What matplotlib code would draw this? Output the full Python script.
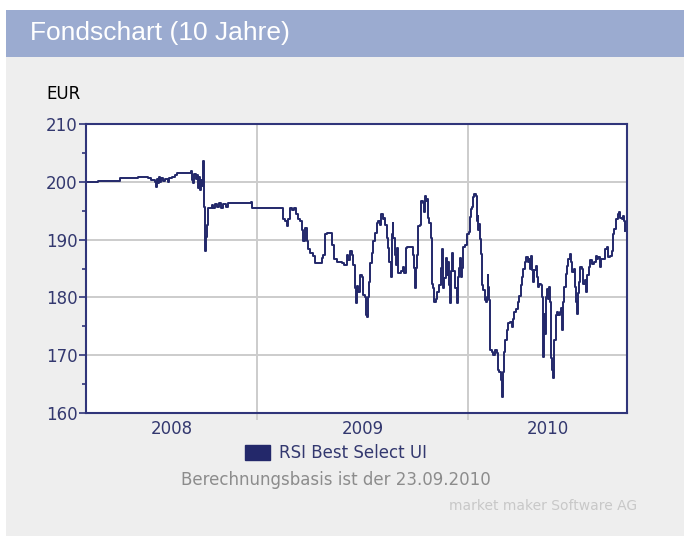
import matplotlib
matplotlib.use("Agg")
import matplotlib.pyplot as plt
import numpy as np
from matplotlib.patches import Rectangle, Patch

# Kursdaten (Zeit als Dezimaljahr, Kurs in EUR)
dates_2008 = [2008.190, 2008.246, 2008.351, 2008.436, 2008.483, 2008.498, 2008.517, 2008.521, 2008.526, 2008.531,
              2008.536, 2008.540, 2008.545, 2008.555, 2008.564, 2008.578, 2008.583, 2008.597, 2008.611, 2008.621,
              2008.682, 2008.687, 2008.692, 2008.697, 2008.701, 2008.711, 2008.716, 2008.720, 2008.725, 2008.730,
              2008.735, 2008.739, 2008.744, 2008.749, 2008.754, 2008.758, 2008.763, 2008.768, 2008.777, 2008.787,
              2008.791, 2008.801, 2008.810, 2008.820, 2008.829, 2008.839, 2008.853, 2008.863, 2008.891, 2008.967,
              2008.972, 2008.976, 2008.995]
eur_2008 = [200.0, 200.2, 200.6, 200.9, 200.6, 200.3, 200.0, 199.1, 200.5, 199.8,
            200.8, 200.0, 200.6, 200.2, 200.4, 200.0, 200.7, 200.9, 201.2, 201.5,
            201.5, 201.8, 200.3, 199.8, 201.4, 200.5, 201.2, 199.0, 200.8, 198.5,
            200.3, 199.2, 203.6, 195.7, 188.1, 190.5, 192.6, 195.5, 195.5, 196.0,
            195.4, 196.2, 195.6, 196.3, 195.5, 196.1, 195.6, 196.3, 196.3, 196.3,
            196.5, 195.5, 195.5]

dates_2009 = [2009.125, 2009.133, 2009.141, 2009.148, 2009.156, 2009.164, 2009.177, 2009.183, 2009.193, 2009.204,
              2009.212, 2009.219, 2009.227, 2009.236, 2009.243, 2009.251, 2009.267, 2009.275, 2009.299, 2009.307,
              2009.314, 2009.322, 2009.330, 2009.351, 2009.357, 2009.365, 2009.378, 2009.401, 2009.414, 2009.425,
              2009.433, 2009.441, 2009.449, 2009.456, 2009.464, 2009.469, 2009.474, 2009.480,
              2009.488, 2009.496, 2009.504, 2009.512, 2009.517, 2009.523, 2009.527, 2009.532, 2009.536, 2009.544,
              2009.551, 2009.559, 2009.567, 2009.575, 2009.583, 2009.588, 2009.596, 2009.602, 2009.607, 2009.615,
              2009.622, 2009.627, 2009.634, 2009.638, 2009.643, 2009.646, 2009.653, 2009.659, 2009.665, 2009.670,
              2009.681, 2009.691, 2009.697, 2009.705, 2009.709, 2009.738, 2009.741, 2009.745, 2009.749, 2009.754,
              2009.760, 2009.764, 2009.773, 2009.777, 2009.785, 2009.791, 2009.796, 2009.801, 2009.807, 2009.812,
              2009.817, 2009.823, 2009.828, 2009.833, 2009.839, 2009.848, 2009.855, 2009.864, 2009.872, 2009.875,
              2009.883, 2009.888, 2009.894, 2009.899, 2009.904, 2009.910, 2009.915, 2009.919, 2009.926, 2009.930,
              2009.938, 2009.946, 2009.951, 2009.956, 2009.962, 2009.967, 2009.972, 2009.978,
              2009.986, 2009.994, 2009.998]
eur_2009 = [193.5, 193.2, 192.3, 193.5, 195.5, 195.2, 195.5, 194.4, 193.5, 193.2,
            191.7, 189.7, 192.0, 189.7, 188.3, 187.7, 187.1, 185.9, 185.9, 186.8,
            187.4, 190.9, 191.2, 191.2, 189.1, 186.7, 186.2, 185.9, 185.6, 187.4,
            186.5, 188.0, 187.4, 185.6, 181.6, 179.0, 181.9, 181.0,
            183.9, 183.6, 180.4, 180.1, 176.9, 176.6, 180.1, 182.7, 185.9, 187.7,
            189.7, 191.2, 192.9, 193.2, 192.6, 194.4, 193.5, 193.8, 192.6, 190.3,
            188.5, 186.2, 183.6, 190.9, 192.9, 190.3, 187.4, 185.6, 188.5, 184.2,
            184.5, 185.3, 184.2, 188.5, 188.7, 188.7, 187.4, 185.1, 181.6, 185.1,
            187.4, 192.3, 192.6, 196.7, 196.4, 194.7, 197.6, 196.7, 197.0, 193.8,
            192.9, 190.3, 182.4, 181.6, 179.2, 179.8, 181.0, 182.2, 185.1, 188.3,
            181.6, 183.3, 186.8, 183.9, 186.2, 182.2, 179.0, 184.5, 187.7, 184.5,
            181.6, 179.0, 183.6, 185.1, 186.8, 183.6, 185.1, 188.8,
            189.0, 190.4, 191.0]

dates_2010 = [2010.005, 2010.009, 2010.014, 2010.020, 2010.025, 2010.030, 2010.036, 2010.041, 2010.046, 2010.049,
              2010.052, 2010.057, 2010.062, 2010.065, 2010.073, 2010.081, 2010.085, 2010.090, 2010.093, 2010.096,
              2010.100, 2010.104, 2010.112, 2010.120, 2010.128, 2010.136, 2010.141, 2010.148, 2010.155, 2010.160,
              2010.164, 2010.171, 2010.175, 2010.183, 2010.191, 2010.199, 2010.207, 2010.212, 2010.219, 2010.226,
              2010.236, 2010.242, 2010.251, 2010.257, 2010.262, 2010.270, 2010.275, 2010.283, 2010.289, 2010.294,
              2010.299, 2010.305, 2010.310, 2010.314, 2010.321, 2010.326, 2010.330, 2010.336, 2010.346, 2010.352,
              2010.357, 2010.362, 2010.365,
              2010.370, 2010.374, 2010.381, 2010.385, 2010.390, 2010.393, 2010.400, 2010.404, 2010.409, 2010.416,
              2010.422, 2010.428, 2010.436, 2010.441, 2010.447, 2010.450, 2010.456, 2010.463, 2010.469, 2010.475,
              2010.482, 2010.488, 2010.494, 2010.501, 2010.507, 2010.512, 2010.515, 2010.520, 2010.526, 2010.532,
              2010.539, 2010.546, 2010.555, 2010.561, 2010.565, 2010.573, 2010.581, 2010.589, 2010.599, 2010.605,
              2010.611, 2010.618, 2010.626, 2010.630, 2010.641, 2010.649, 2010.657, 2010.665, 2010.673, 2010.681,
              2010.686, 2010.693, 2010.701, 2010.709, 2010.716, 2010.722, 2010.728, 2010.736, 2010.741, 2010.746]
eur_2010 = [191.3, 193.9, 195.3, 195.6, 197.3, 197.9, 197.6, 193.3, 194.1, 191.6,
            192.7, 190.1, 187.5, 182.1, 181.2, 179.5, 179.2, 180.1, 183.8, 181.8,
            179.5, 170.9, 170.6, 170.0, 170.9, 170.3, 167.4, 167.1, 165.7, 162.8,
            167.1, 170.6, 172.6, 174.3, 175.5, 175.7, 174.9, 176.3, 177.5, 178.0,
            179.2, 180.3, 182.1, 183.5, 184.9, 186.1, 187.0, 186.1, 186.7, 184.9,
            187.2, 184.7, 182.6, 184.7, 185.5, 183.5, 181.8, 182.4, 182.1, 180.1,
            169.7, 177.2, 173.7,
            180.1, 181.5, 179.8, 181.8, 179.2, 169.5, 167.5, 166.0, 172.6, 176.9,
            177.5, 176.9, 177.5, 178.1, 174.4, 179.2, 181.8, 184.1, 185.5, 186.7,
            187.5, 186.1, 184.4, 185.0, 181.8, 179.2, 177.2, 180.7, 182.7, 185.2,
            185.0, 182.4, 183.0, 180.9, 183.8, 185.2, 186.4, 185.8, 186.1, 187.2,
            186.7, 187.0, 185.2, 186.7, 186.7, 188.4, 188.7, 187.0, 187.2, 188.1,
            191.0, 191.8, 193.6, 194.4, 194.7, 193.8, 193.6, 194.1, 193.3, 191.5]

years = ["2008", "2009", "2010"]
year_bounds = [2008.19, 2009.0, 2010.0, 2010.754]
y_ticks = [160, 170, 180, 190, 200, 210]

fondsname = "RSI Best Select UI"
titel = "Fondschart (10 Jahre)"
basis = "Berechnungsbasis ist der 23.09.2010"
quelle = "market maker Software AG"

W, H = 684, 536
navy = "#23286a"
spine_col = "#30357a"
label_col = "#33386f"
grid_col = "#cccccc"

fig = plt.figure(figsize=(W / 100, H / 100), dpi=100, facecolor="white")

# Hintergrund: grauer Kasten und blaue Titelleiste
fig.patches.append(Rectangle((6 / W, 0), 1, 1 - 57 / H, transform=fig.transFigure,
                             facecolor="#eeeeee", edgecolor="none", zorder=-10))
fig.patches.append(Rectangle((6 / W, 1 - 57 / H), 1, 47 / H, transform=fig.transFigure,
                             facecolor="#9babd0", edgecolor="none", zorder=-10))
fig.text(30 / W, 1 - 33 / H, titel, color="white", fontsize=19,
         family="Liberation Sans", ha="left", va="center")

ax = fig.add_axes([86 / W, 1 - 413 / H, (627 - 86) / W, (413 - 124) / H])
ax.set_facecolor("white")

t = np.concatenate([dates_2008, dates_2009, dates_2010])
v = np.concatenate([eur_2008, eur_2009, eur_2010])
ax.step(t, v, where="post", color=navy, lw=1.4, zorder=3)

ax.set_xlim(year_bounds[0], year_bounds[-1])
ax.set_ylim(y_ticks[0], y_ticks[-1])

# y-Achse
ax.set_yticks(y_ticks)
ax.set_yticks(np.arange(165, 210, 10), minor=True)
ax.tick_params(axis="y", which="major", length=5, width=1.2, color=spine_col,
               labelsize=12, labelcolor=label_col, pad=1)
ax.tick_params(axis="y", which="minor", length=3, width=1.2, color=spine_col)
for yv in y_ticks[1:-1]:
    ax.axhline(yv, color=grid_col, lw=1.4, zorder=1)

# x-Achse: Striche an den Jahreswechseln, Beschriftung in der Mitte
ax.set_xticks(year_bounds[1:-1])
ax.set_xticklabels([])
mids = [(a + b) / 2 for a, b in zip(year_bounds[:-1], year_bounds[1:])]
ax.set_xticks(mids, minor=True)
ax.set_xticklabels(years, minor=True)
ax.tick_params(axis="x", which="major", length=5, width=1.2, color=grid_col)
ax.tick_params(axis="x", which="minor", length=0, labelsize=12, labelcolor=label_col, pad=5)
for xv in year_bounds[1:-1]:
    ax.axvline(xv, color=grid_col, lw=1.4, zorder=1)

for s in ax.spines.values():
    s.set_color(spine_col)
    s.set_linewidth(1.5)
    s.set_zorder(4)

for lab in ax.get_yticklabels() + ax.get_xticklabels(minor=True):
    lab.set_family("DejaVu Sans")

fig.text(46 / W, 1 - 94 / H, "EUR", color="black", fontsize=12, ha="left", va="center",
         family="DejaVu Sans")

handle = Patch(facecolor=navy, edgecolor=navy)
fig.legend([handle], [fondsname], loc="center", bbox_to_anchor=(336 / W, 1 - 453 / H),
           frameon=False, handlelength=1.5, handleheight=1.0,
           handletextpad=0.5, labelcolor=label_col, prop={"family": "DejaVu Sans", "size": 12})

fig.text(336 / W, 1 - 480 / H, basis, color="#8c8c8c", fontsize=12, ha="center",
         va="center", family="DejaVu Sans")
fig.text(637 / W, 1 - 506 / H, quelle, color="#c8c8c8", fontsize=10, ha="right",
         va="center", family="DejaVu Sans")

fig.savefig("out.png", dpi=100, facecolor="white")
